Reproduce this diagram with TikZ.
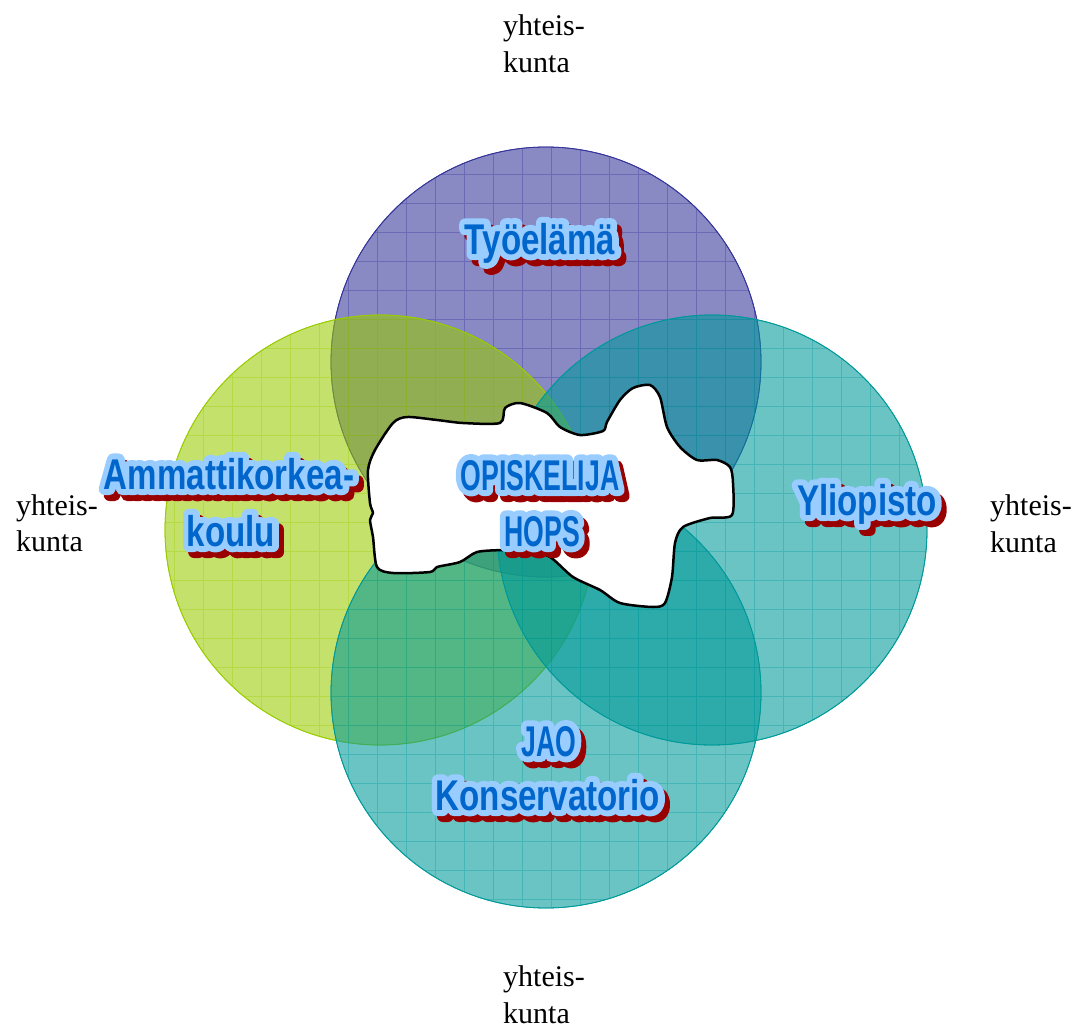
\documentclass[tikz,border=0pt]{standalone}
\usepackage{fontspec}
\setmainfont{Liberation Serif}
\newfontfamily\lblfont[FakeStretch=0.77]{Liberation Sans Bold}
\newfontfamily\lblfontO[FakeStretch=0.77,FakeBold=28]{Liberation Sans Bold}
\newfontfamily\capfont[FakeStretch=0.62]{Liberation Sans Bold}
\newfontfamily\capfontO[FakeStretch=0.62,FakeBold=28]{Liberation Sans Bold}
\usetikzlibrary{calc}
\definecolor{cblue}{HTML}{333399}
\definecolor{cgreen}{HTML}{99CC00}
\definecolor{cteal}{HTML}{009999}
\definecolor{shred}{HTML}{990000}
\definecolor{olblue}{HTML}{99CCFF}
\definecolor{txblue}{HTML}{0066CC}
\tikzset{
  lbl/.style={anchor=base,inner sep=0pt,line join=round,line cap=round,font=\fontsize{43}{55}\selectfont},
  side/.style={anchor=base west,inner sep=0pt,font=\fontsize{30}{37}\selectfont},
  disc/.style={fill=#1,fill opacity=0.58,draw=#1,line width=0.8pt},
  gridl/.style={draw=#1,opacity=0.35,line width=0.6pt},
  blob/.style={fill=white,draw=black,line width=2.5pt,line join=round}
}
% #1 name, #2 position, #3 outlined font, #4 plain font, #5 text
\newcommand\fancy[5]{%
  \node[lbl,text=shred] (#1-s) at ($(#2)+(5,6)$) {#3#5};
  \node[lbl,text=olblue] (#1-o) at (#2) {#3#5};
  \node[lbl,text=txblue] (#1) at (#2) {#4#5};
}
\newcommand\venndisc[2]{%
  \fill[disc=#2] (#1) circle (215);
  \begin{scope}
    \clip (#1) circle (215);
    \draw[gridl=#2,step=29pt] ($(#1)+(-215,-215)$) grid ($(#1)+(215,215)$);
  \end{scope}
  \draw[draw=#2,line width=0.8pt] (#1) circle (215);
}
\begin{document}
\begin{tikzpicture}[x=1pt,y=-1pt]
\useasboundingbox (0,0) rectangle (1086,1030);
\coordinate (ctop) at (546,362);
\coordinate (cleft) at (380,530);
\coordinate (cright) at (712,530);
\coordinate (cbot) at (546,693);
\venndisc{ctop}{cblue}
\venndisc{cleft}{cgreen}
\venndisc{cright}{cteal}
\venndisc{cbot}{cteal}
% central student blob
\draw[blob] plot[smooth cycle,tension=0.45] coordinates {
 (375,450) (393,423) (407,417) (437,420) (463,423) (500,423) (505,408)
 (520,403) (547,413) (560,427) (580,435) (603,431) (607,422) (620,400)
 (633,388) (650,385) (660,397) (667,427) (680,447) (697,460) (717,460)
 (730,467) (733,483) (732,515) (710,518) (683,527) (675,543) (672,577)
 (665,603) (653,607) (620,603) (600,590) (573,577) (550,557) (527,550)
 (503,550) (477,552) (460,562) (437,567) (430,572) (393,573) (377,567)
 (373,537) (370,520) (373,513) (370,503) (368,470)};
% labels
\fancy{tyo}{540,254}{\lblfontO}{\lblfont}{Työelämä}
\fancy{amk1}{229,489}{\lblfontO}{\lblfont}{Ammattikorkea-}
\fancy{amk2}{231,546}{\lblfontO}{\lblfont}{koulu}
\fancy{opi}{540,490}{\capfontO}{\capfont}{OPISKELIJA}
\fancy{hops}{542,546}{\capfontO}{\capfont}{HOPS}
\fancy{yli}{867,515}{\lblfontO}{\lblfont}{Yliopisto}
\fancy{jao}{549,756}{\capfontO}{\capfont}{JAO}
\fancy{kons}{548,810}{\lblfontO}{\lblfont}{Konservatorio}
% yhteiskunta labels
\node[side] (yt1) at (503,36) {yhteis-};
\node[side] (yt2) at (503,73) {kunta};
\node[side] (yl1) at (16,515) {yhteis-};
\node[side] (yl2) at (16,551) {kunta};
\node[side] (yr1) at (990,515) {yhteis-};
\node[side] (yr2) at (990,552) {kunta};
\node[side] (yb1) at (503,986) {yhteis-};
\node[side] (yb2) at (503,1023) {kunta};
\end{tikzpicture}
\end{document}
